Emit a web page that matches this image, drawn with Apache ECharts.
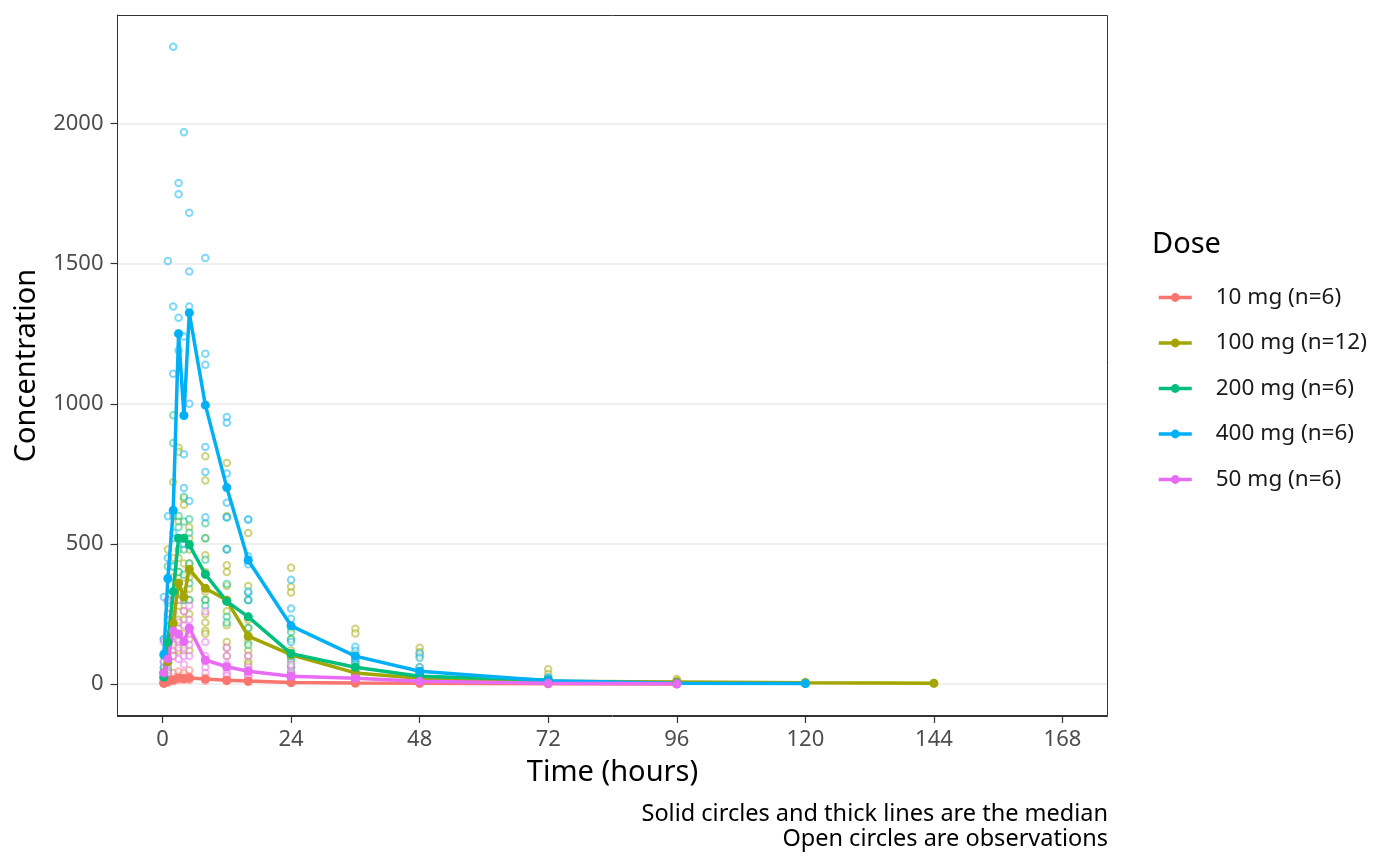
<!DOCTYPE html>
<html>
<head>
<meta charset="utf-8">
<script src="https://cdn.jsdelivr.net/npm/echarts@6/dist/echarts.min.js"></script>
<style>
  html, body { margin: 0; padding: 0; background: #fff; }
  #chart { width: 1400px; height: 866px; }
</style>
</head>
<body>
<div id="chart"></div>
<script>
// sampling times (hours)
var times = [0.25, 1, 2, 3, 4, 5, 8, 12, 16, 24, 36, 48, 72, 96, 120, 144];

// dose groups, legend order
var doses = ['10 mg (n=6)', '100 mg (n=12)', '200 mg (n=6)', '400 mg (n=6)', '50 mg (n=6)'];
var colors = ['#F8766D', '#A3A500', '#00BF7D', '#00B0F6', '#E76BF3'];

// medians per dose, aligned with times (null = no sample)
var med10 = [3, 10, 15, 22, 20, 22, 18, 14, 11, 6, 4, 3, 1, 0.5, null, null];
var med100 = [40, 80, 217, 360, 310, 410, 342, 299, 171, 105, 40, 21, 10, 8, 5, 3];
var med200 = [25, 150, 330, 520, 520, 497, 392, 295, 240, 109, 60, 28, 15, null, null, null];
var med400 = [105, 376, 620, 1250, 958, 1324, 995, 701, 442, 208, 100, 46, 12, 3, 2, null];
var med50 = [40, 90, 190, 178, 152, 200, 86, 62, 46, 28, 21, 10, 3, 1, null, null];

// observations per dose, one list per time point
var obs10 = [[1, 3, 8], [5, 10, 15, 25], [10, 15, 25, 40], [15, 20, 30, 45], [15, 22, 30, 40],
  [15, 20, 28, 50], [12, 18, 25], [10, 14, 20], [8, 11, 15], [4, 6, 9], [3, 4], [2, 3], [1], [0.5], [], []];
var obs100 = [[5, 10, 20, 30, 60, 100, 15, 40], [480, 300, 250, 180, 120, 100, 80, 60, 40, 200],
  [721, 600, 450, 380, 300, 250, 217, 180, 150, 120, 100], [843, 829, 580, 450, 400, 360, 320, 280, 230, 200, 150, 120],
  [661, 640, 520, 430, 380, 330, 300, 260, 230, 180, 140, 120], [560, 520, 480, 430, 410, 380, 340, 300, 250, 200, 160, 120],
  [813, 726, 520, 460, 400, 342, 330, 300, 250, 220, 190, 180], [789, 600, 480, 424, 400, 350, 300, 260, 210, 150, 130, 100],
  [539, 350, 300, 230, 200, 170, 150, 120, 100, 80, 70, 50], [415, 347, 327, 200, 160, 120, 100, 80, 60, 40, 30, 20],
  [198, 181, 110, 80, 60, 45, 40, 30, 25, 20, 15, 10], [130, 115, 100, 60, 40, 30, 25, 20, 15, 10, 8],
  [53, 36, 20, 15, 10, 8, 5, 4], [18, 12, 8, 5, 3], [8, 5, 3], [4, 2]];
var obs200 = [[10, 25, 50, 160], [420, 300, 230, 150, 90, 50], [959, 860, 600, 520, 420, 300],
  [600, 560, 520, 480, 400, 330], [668, 580, 520, 480, 390, 300], [588, 540, 500, 430, 360, 300],
  [574, 520, 444, 390, 300, 280], [594, 483, 357, 296, 240, 220], [325, 300, 240, 200, 170, 140],
  [186, 160, 110, 90, 62, 40], [90, 75, 60, 45, 30], [45, 35, 28, 20, 15], [18, 15, 10, 8], [], [], []];
var obs400 = [[30, 80, 160, 110, 311, 60], [1509, 599, 380, 230, 450, 290], [2273, 1347, 1107, 620, 540, 420],
  [1787, 1747, 1307, 1250, 1190, 520], [1968, 1240, 958, 820, 700, 500], [1681, 1472, 1347, 1324, 1000, 653],
  [1520, 1178, 1139, 846, 757, 595], [953, 932, 751, 647, 595, 480], [587, 587, 456, 428, 330, 300],
  [372, 270, 233, 208, 150, 100], [133, 119, 100, 90, 70, 60], [109, 93, 60, 45, 30, 20],
  [25, 20, 12, 10, 8], [3, 4, 2], [2, 1], []];
var obs50 = [[5, 20, 40, 80, 150], [300, 250, 160, 100, 70, 40], [260, 220, 190, 170, 140, 100],
  [300, 220, 180, 160, 130, 90], [260, 210, 150, 130, 100, 70], [280, 230, 200, 180, 140, 100],
  [260, 150, 100, 80, 60, 40], [130, 100, 70, 55, 40, 30], [100, 60, 50, 40, 30, 25],
  [70, 45, 35, 25, 15], [40, 30, 20, 15], [25, 15, 10, 8], [8, 5, 3], [2, 1], [], []];

var xTicks = [0, 24, 48, 72, 96, 120, 144, 168];
var yTicks = [0, 500, 1000, 1500, 2000];

var medians = [med10, med100, med200, med400, med50];
var observations = [obs10, obs100, obs200, obs400, obs50];

function medPairs(arr) {
  var out = [];
  arr.forEach(function (v, i) { if (v !== null) out.push([times[i], v]); });
  return out;
}
function obsPairs(arr) {
  var out = [];
  arr.forEach(function (list, i) { list.forEach(function (v) { out.push([times[i], v]); }); });
  return out;
}

var series = [];
// open circles first so medians sit on top
doses.forEach(function (d, k) {
  series.push({
    name: d + ' obs',
    type: 'scatter',
    data: obsPairs(observations[k]),
    symbol: 'emptyCircle',
    symbolSize: 6.5,
    itemStyle: { color: colors[k], borderColor: colors[k], borderWidth: 1.3, opacity: 0.5 },
    silent: true,
    z: 2
  });
});
doses.forEach(function (d, k) {
  series.push({
    name: d,
    type: 'line',
    data: medPairs(medians[k]),
    symbol: 'circle',
    symbolSize: 9,
    showSymbol: true,
    lineStyle: { color: colors[k], width: 3.5 },
    itemStyle: { color: colors[k] },
    z: 3
  });
});

var myChart = echarts.init(document.getElementById('chart'), null, { renderer: 'canvas' });
var font = '"Noto Sans", "Open Sans", sans-serif';

var option = {
  animation: false,
  textStyle: { fontFamily: font },
  grid: { left: 117.5, right: 292.5, top: 15, bottom: 150, containLabel: false },
  title: {
    text: 'Dose',
    left: 1152, top: 230, padding: 0,
    textStyle: { fontFamily: font, fontSize: 29, fontWeight: 'normal', color: '#000' }
  },
  legend: {
    data: doses,
    orient: 'vertical',
    left: 1157, top: 286, padding: 0,
    itemWidth: 33, itemHeight: 11,
    itemGap: 22.5,
    lineStyle: { width: 3.5 },
    textStyle: { fontFamily: font, fontSize: 22.5, lineHeight: 20, color: '#1a1a1a', padding: [0, 0, 0, 19] },
    selectedMode: false
  },
  xAxis: {
    type: 'value',
    min: -8.4, max: 176.4,
    name: 'Time (hours)',
    nameLocation: 'middle',
    nameGap: 42,
    nameTextStyle: { fontFamily: font, fontSize: 29, color: '#000' },
    axisLine: { show: true, onZero: false, lineStyle: { color: '#333', width: 1 } },
    axisTick: { show: true, length: 7, lineStyle: { color: '#333', width: 1.2 }, customValues: xTicks },
    axisLabel: { fontSize: 22, color: '#4D4D4D', margin: 13, customValues: xTicks },
    splitLine: { show: false }
  },
  yAxis: {
    type: 'value',
    min: -113.6, max: 2386.6,
    name: 'Concentration',
    nameLocation: 'middle',
    nameGap: 76,
    nameTextStyle: { fontFamily: font, fontSize: 29, color: '#000' },
    axisLine: { show: true, onZero: false, lineStyle: { color: '#333', width: 1 } },
    axisTick: { show: true, length: 7, lineStyle: { color: '#333', width: 1.2 }, customValues: yTicks },
    axisLabel: {
      fontSize: 22, color: '#4D4D4D', margin: 14, customValues: yTicks,
      formatter: function (v) { return String(v); }
    },
    splitLine: { show: true, lineStyle: { color: '#EBEBEB', width: 1.5 } }
  },
  graphic: [
    { type: 'rect', shape: { x: 117.5, y: 15.5, width: 990, height: 700 }, style: { fill: 'none', stroke: '#333', lineWidth: 1 }, z: 10, silent: true },
    { type: 'text', x: 1108, y: 802, style: { text: 'Solid circles and thick lines are the median', textAlign: 'right', fontFamily: font, fontSize: 23.5, fill: '#000' } },
    { type: 'text', x: 1108, y: 827, style: { text: 'Open circles are observations', textAlign: 'right', fontFamily: font, fontSize: 23.5, fill: '#000' } }
  ],
  series: series
};

myChart.setOption(option);
window.addEventListener('resize', function () {
  myChart.resize();
});
</script>
</body>
</html>
